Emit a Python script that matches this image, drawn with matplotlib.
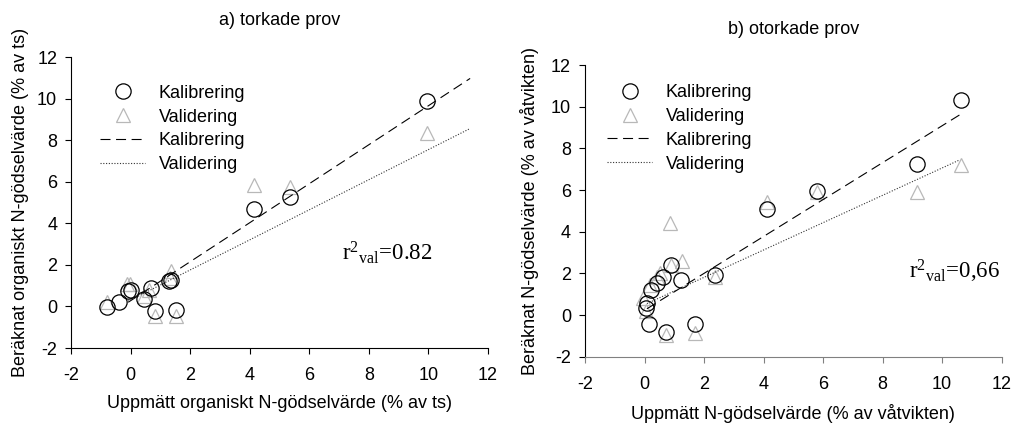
import numpy as np
import matplotlib
matplotlib.use('Agg')
import matplotlib.pyplot as plt
from matplotlib.lines import Line2D

plt.rcParams['font.family'] = ['Liberation Sans', 'DejaVu Sans']
plt.rcParams['mathtext.fontset'] = 'custom'
plt.rcParams['mathtext.rm'] = 'Liberation Serif'
plt.rcParams['mathtext.it'] = 'Liberation Serif:italic'
plt.rcParams['axes.unicode_minus'] = False

# a) torkade prov
cal_a_x = [-0.78, -0.38, -0.1, 0.02, 0.45, 0.68, 0.82, 1.3, 1.35, 1.52, 4.15, 5.35, 9.95]
cal_a_y = [-0.02, 0.2, 0.72, 0.8, 0.38, 0.9, -0.2, 1.22, 1.27, -0.18, 4.7, 5.25, 9.9]
val_a_x = [-0.78, -0.13, -0.02, 0.45, 0.62, 0.82, 1.32, 1.35, 1.52, 4.15, 5.35, 9.95]
val_a_y = [0.23, 1.08, 1.08, 0.5, 0.8, -0.45, 1.35, 1.72, -0.45, 5.84, 5.73, 8.35]
fit_a_x = [-0.08, 11.4]
fit_a_cal = [0.2, 10.97]
fit_a_val = [0.25, 8.56]

# b) otorkade prov
cal_b_x = [0.05, 0.09, 0.16, 0.21, 0.41, 0.63, 0.88, 1.21, 0.72, 1.69, 2.37, 4.11, 5.79, 9.15, 10.63]
cal_b_y = [0.32, 0.56, -0.44, 1.2, 1.52, 1.84, 2.4, 1.68, -0.8, -0.43, 1.92, 5.07, 5.97, 7.25, 10.32]
val_b_x = [-0.04, 0.05, 0.18, 0.41, 0.52, 0.86, 0.88, 1.25, 0.72, 1.69, 2.37, 4.11, 5.79, 9.15, 10.63]
val_b_y = [0.8, 0.2, 1.44, 1.84, 2.0, 4.4, 2.4, 2.6, -0.96, -0.84, 1.84, 5.44, 5.9, 5.92, 7.2]
fit_b_x = [0.08, 10.58]
fit_b_cal = [0.3, 9.6]
fit_b_val = [0.55, 7.44]

ticks = [-2, 0, 2, 4, 6, 8, 10, 12]
tri_col = '#b8b8b8'
dash = (0, (9, 5))
dot = (0, (1, 1.5))
fs = 13

fig = plt.figure(figsize=(10.19, 4.23), dpi=100)
ax1 = fig.add_axes([0.0697, 0.1773, 0.4092, 0.6879])
ax2 = fig.add_axes([0.5741, 0.1567, 0.4089, 0.6896])

def panel(ax, cx, cy, vx, vy, fx, fc, fv):
    ax.plot(vx, vy, '^', ms=10.5, mfc='none', mec=tri_col, mew=0.9)
    ax.plot(cx, cy, 'o', ms=11, mfc='none', mec='black', mew=0.9)
    ax.plot(fx, fc, color='black', lw=0.8, linestyle=dash)
    ax.plot(fx, fv, color='#333333', lw=0.8, linestyle=dot)
    ax.set_xlim(-2, 12)
    ax.set_ylim(-2, 12)
    ax.set_xticks(ticks)
    ax.set_yticks(ticks)
    ax.spines['top'].set_visible(False)
    ax.spines['right'].set_visible(False)
    ax.tick_params(direction='out', length=4, width=0.8, labelsize=fs)
    ax.tick_params(axis='x', pad=10)
    ax.tick_params(axis='y', pad=6)

panel(ax1, cal_a_x, cal_a_y, val_a_x, val_a_y, fit_a_x, fit_a_cal, fit_a_val)
panel(ax2, cal_b_x, cal_b_y, val_b_x, val_b_y, fit_b_x, fit_b_cal, fit_b_val)
ax2.spines['bottom'].set_color('#808080')
ax2.tick_params(axis='x', color='#808080')

handles = [
    Line2D([], [], marker='o', ls='none', ms=11, mfc='none', mec='black', mew=0.9),
    Line2D([], [], marker='^', ls='none', ms=10.5, mfc='none', mec=tri_col, mew=0.9),
    Line2D([], [], color='black', lw=0.8, linestyle=dash),
    Line2D([], [], color='#333333', lw=0.8, linestyle=dot),
]
labels = ['Kalibrering', 'Validering', 'Kalibrering', 'Validering']
ax1.legend(handles, labels, loc='upper left', bbox_to_anchor=(0.07, 0.905), frameon=False,
           fontsize=fs, handlelength=2.5, handletextpad=0.75, labelspacing=0.38, borderpad=0, borderaxespad=0)
ax2.legend(handles, labels, loc='upper left', bbox_to_anchor=(0.053, 0.935), frameon=False,
           fontsize=fs, handlelength=2.5, handletextpad=0.75, labelspacing=0.38, borderpad=0, borderaxespad=0)

ax1.set_title('a) torkade prov', fontsize=fs, pad=23)
ax2.set_title('b) otorkade prov', fontsize=fs, pad=22)
ax1.set_xlabel('Uppmätt organiskt N-gödselvärde (% av ts)', fontsize=fs, labelpad=7.5)
ax1.set_ylabel('Beräknat organiskt N-gödselvärde (% av ts)', fontsize=fs, labelpad=6)
ax2.set_xlabel('Uppmätt N-gödselvärde (% av våtvikten)', fontsize=fs, labelpad=7.5)
ax2.set_ylabel('Beräknat N-gödselvärde (% av våtvikten)', fontsize=fs, labelpad=8.5)

ax1.text(7.1, 2.6, r'r$^{2}$$_{\mathrm{val}}$=0.82', fontsize=16.5, family='Liberation Serif', va='center')
ax2.text(8.9, 2.1, r'r$^{2}$$_{\mathrm{val}}$=0,66', fontsize=16.5, family='Liberation Serif', va='center')

fig.savefig('out.png', dpi=100)
